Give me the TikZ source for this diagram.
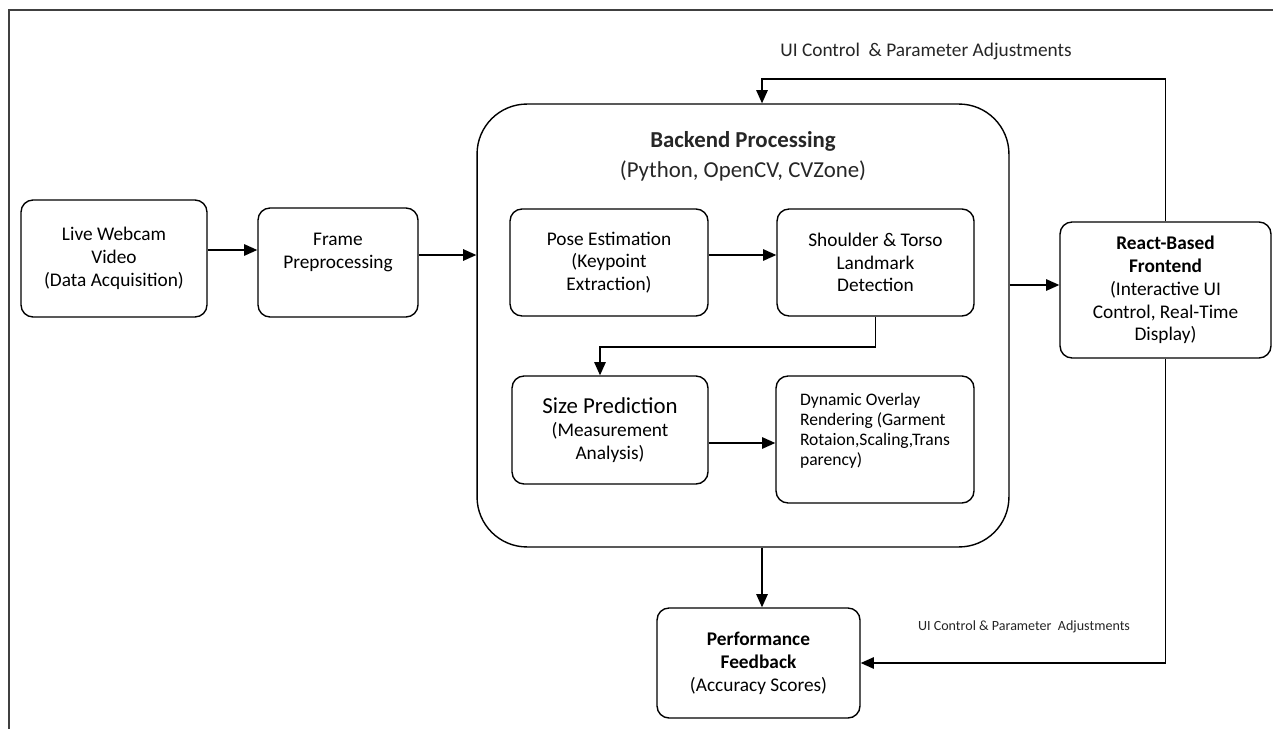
\documentclass[tikz,border=0pt]{standalone}
\usepackage{fontspec}
\setmainfont{Carlito}
\usetikzlibrary{arrows.meta}

\begin{document}
\begin{tikzpicture}[x=0.02cm, y=-0.02cm,
    blk/.style={draw, line width=0.8pt, rounded corners=0.24cm, align=center,
        inner sep=2pt, font=\fontsize{11}{13}\selectfont},
    arr/.style={line width=0.8pt, -{Triangle[length=7.5pt,width=6.5pt]}},
    lbl/.style={inner sep=0pt, text=black!85}]
\useasboundingbox (0,0) rectangle (1273,729);

% Draw border
\draw[line width=1.2pt, black!75] (9,729) |- (1273,10);

% Outer stages
\node[blk, minimum width=3.72cm, minimum height=2.34cm] (lw) at (114,258.5)
    {Live Webcam\\Video\\(Data Acquisition)};
\node[blk, minimum width=3.2cm, minimum height=2.18cm] (fp) at (338,262.5)
    {Frame\\Preprocessing\\\mbox{}};
\node[blk, minimum width=4.22cm, minimum height=2.72cm] (rf) at (1165.5,290)
    {\textbf{React-Based}\\\textbf{Frontend}\\(Interactive UI\\Control, Real-Time\\Display)};
\node[blk, minimum width=4.06cm, minimum height=2.2cm] (pf) at (758.5,663)
    {\textbf{Performance}\\\textbf{Feedback}\\(Accuracy Scores)};

% Backend container and its title
\node[draw, line width=0.8pt, rounded corners=1cm, minimum width=10.64cm,
    minimum height=8.86cm] (be) at (743,325.5) {};
\node[lbl, align=center, font=\fontsize{13}{17}\selectfont] (bt) at (743,156)
    {\textbf{Backend Processing}\\(Python, OpenCV, CVZone)};

% Inner stages
\node[blk, minimum width=3.96cm, minimum height=2.14cm] (pe) at (609,262.5)
    {Pose Estimation\\(Keypoint\\Extraction)};
\node[blk, minimum width=3.94cm, minimum height=2.14cm] (sl) at (875.5,262.5)
    {Shoulder \& Torso\\Landmark\\Detection};
\node[blk, minimum width=3.92cm, minimum height=2.16cm] (sp) at (610,430)
    {{\fontsize{13}{16}\selectfont Size Prediction}\\(Measurement\\Analysis)};
\node[blk, minimum width=3.96cm, minimum height=2.54cm, align=left,
    font=\fontsize{10}{11.5}\selectfont] (dy) at (875,439.5)
    {Dynamic Overlay\\Rendering (Garment\\Rotaion,Scaling,Trans\\parency)\\\mbox{}};

% Feedback labels
\node[lbl, font=\fontsize{11}{13}\selectfont] (ui1) at (926,51)
    {UI Control \ \& Parameter Adjustments};
\node[lbl, font=\fontsize{8}{10}\selectfont] (ui2) at (1024,627)
    {UI Control \& Parameter \ Adjustments};

% Main flow
\draw[arr] ([yshift=0.17cm]lw.east) -- ([yshift=0.17cm]lw.east -| fp.west);
\draw[arr] ([yshift=0.15cm]fp.east) -- ([yshift=0.15cm]fp.east -| be.west);
\draw[arr] ([yshift=0.15cm]pe.east) -- ([yshift=0.15cm]sl.west);
\coordinate (bend) at (600,347);
\draw[arr] (sl.south) |- (bend) -- (bend |- sp.north);
\draw[arr] ([yshift=-0.26cm]sp.east) -- ([yshift=-0.26cm]sp.east -| dy.west);
\draw[arr] ([yshift=0.1cm]be.east |- rf.west) -- ([yshift=0.1cm]rf.west);

% Feedback loops
\coordinate (fbk) at (762,79);
\draw[arr] (rf.north) |- (fbk) -- (fbk |- be.north);
\draw[arr] (fbk |- be.south) -- (fbk |- pf.north);
\draw[arr] (rf.south) |- (pf.east);
\end{tikzpicture}
\end{document}
